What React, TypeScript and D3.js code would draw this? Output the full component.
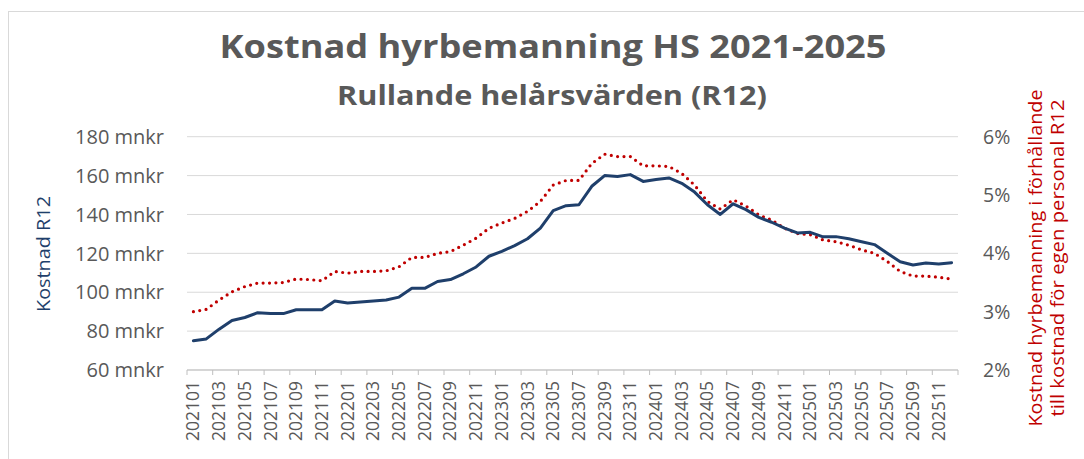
import React from "react";
import * as d3 from "d3";

const months: string[] = [
  "202101","202102","202103","202104","202105","202106","202107","202108","202109","202110","202111","202112",
  "202201","202202","202203","202204","202205","202206","202207","202208","202209","202210","202211","202212",
  "202301","202302","202303","202304","202305","202306","202307","202308","202309","202310","202311","202312",
  "202401","202402","202403","202404","202405","202406","202407","202408","202409","202410","202411","202412",
  "202501","202502","202503","202504","202505","202506","202507","202508","202509","202510","202511","202512",
];

const costR12: number[] = [
  75, 76, 81, 85.5, 87, 89.5, 89, 89, 91, 91, 91, 95.5,
  94.5, 95, 95.5, 96, 97.5, 102, 102, 105.5, 106.5, 109.5, 113, 118.5,
  121, 124, 127.5, 133, 142, 144.5, 145, 154.5, 160, 159.5, 160.5, 157,
  158, 158.8, 156, 151.5, 145, 140, 145.5, 142.5, 138.5, 136, 133, 130.5,
  130.8, 128.5, 128.6, 127.5, 126, 124.5, 120, 115.7, 114, 115, 114.5, 115.2,
];

const shareR12: number[] = [
  3.0, 3.04, 3.2, 3.34, 3.43, 3.49, 3.49, 3.5, 3.56, 3.55, 3.53, 3.69,
  3.66, 3.69, 3.69, 3.7, 3.77, 3.93, 3.93, 4.0, 4.03, 4.14, 4.26, 4.43,
  4.52, 4.6, 4.72, 4.89, 5.17, 5.25, 5.25, 5.54, 5.7, 5.66, 5.66, 5.5,
  5.5, 5.49, 5.37, 5.17, 4.89, 4.76, 4.92, 4.81, 4.66, 4.57, 4.43, 4.34,
  4.32, 4.23, 4.2, 4.14, 4.06, 4.0, 3.86, 3.69, 3.61, 3.61, 3.59, 3.56,
];

const leftTicks: number[] = [60, 80, 100, 120, 140, 160, 180];
const rightTicks: number[] = [2, 3, 4, 5, 6];

const W = 1084;
const H = 459;
const plotL = 187;
const plotR = 958;
const plotT = 136.7;
const plotB = 370;

const FONT = "'Open Sans', Lato, sans-serif";
const GRAY = "#595959";
const BLUE = "#1F3F6B";
const RED = "#C00000";

export default function App() {
  const x = d3.scaleBand<string>().domain(months).range([plotL, plotR]).paddingInner(0).paddingOuter(0);
  const cx = (m: string) => (x(m) as number) + x.bandwidth() / 2;
  const yL = d3.scaleLinear().domain([60, 180]).range([plotB, plotT]);
  const yR = d3.scaleLinear().domain([2, 6]).range([plotB, plotT]);

  const lineL = d3.line<number>().x((_, i) => cx(months[i])).y((d) => yL(d));
  const lineR = d3.line<number>().x((_, i) => cx(months[i])).y((d) => yR(d));

  const tickBoundaries = months.filter((_, i) => i % 2 === 0).map((m) => x(m) as number);
  tickBoundaries.push(plotR);

  return (
    <svg width={W} height={H} style={{ position: "absolute", left: 0, top: 0, background: "#fff" }} fontFamily={FONT}>
      <rect x={0} y={0} width={W} height={H} fill="#fff" />
      <rect x={8.5} y={11.5} width={W + 10} height={H + 10} fill="none" stroke="#d9d9d9" strokeWidth={1} />

      <text x={553} y={58} textAnchor="middle" fontSize={32} fontWeight={700} fill={GRAY} textLength={667} lengthAdjust="spacingAndGlyphs">
        Kostnad hyrbemanning HS 2021-2025
      </text>
      <text x={552} y={105} textAnchor="middle" fontSize={26} fontWeight={700} fill={GRAY} textLength={430} lengthAdjust="spacingAndGlyphs">
        Rullande helårsvärden (R12)
      </text>

      {leftTicks.map((t) => (
        <line key={"g" + t} x1={plotL} x2={plotR} y1={yL(t)} y2={yL(t)} stroke="#d9d9d9" strokeWidth={1} />
      ))}
      <line x1={plotL} x2={plotR} y1={plotB} y2={plotB} stroke="#bfbfbf" strokeWidth={1} />
      {tickBoundaries.map((b, i) => (
        <line key={"t" + i} x1={b} x2={b} y1={plotB} y2={plotB + 5} stroke="#bfbfbf" strokeWidth={1} />
      ))}

      {leftTicks.map((t) => (
        <text key={"l" + t} x={164} y={yL(t)} dy="0.36em" textAnchor="end" fontSize={20} fill={GRAY}>
          {t} mnkr
        </text>
      ))}
      {rightTicks.map((t) => (
        <text key={"r" + t} x={983} y={yR(t)} dy="0.36em" textAnchor="start" fontSize={19.5} fill={GRAY}>
          {t}%
        </text>
      ))}

      {months.filter((_, i) => i % 2 === 0).map((m) => (
        <text key={"x" + m} transform={`translate(${cx(m) + 6},381) rotate(-90)`} textAnchor="end" fontSize={17.5} fill={GRAY}>
          {m}
        </text>
      ))}

      <text transform={`translate(50,254) rotate(-90)`} textAnchor="middle" fontSize={18} fill={BLUE} textLength={116} lengthAdjust="spacingAndGlyphs">
        Kostnad R12
      </text>
      <text transform={`translate(1042,258) rotate(-90)`} textAnchor="middle" fontSize={18} fill={RED} textLength={337} lengthAdjust="spacingAndGlyphs">
        Kostnad hyrbemanning i förhållande
      </text>
      <text transform={`translate(1064,258) rotate(-90)`} textAnchor="middle" fontSize={18} fill={RED} textLength={317} lengthAdjust="spacingAndGlyphs">
        till kostnad för egen personal R12
      </text>

      <path d={lineR(shareR12) || ""} fill="none" stroke={RED} strokeWidth={3.2} strokeDasharray="0 6.4" strokeLinecap="round" strokeLinejoin="round" />
      <path d={lineL(costR12) || ""} fill="none" stroke={BLUE} strokeWidth={3} strokeLinejoin="round" strokeLinecap="round" />
    </svg>
  );
}
